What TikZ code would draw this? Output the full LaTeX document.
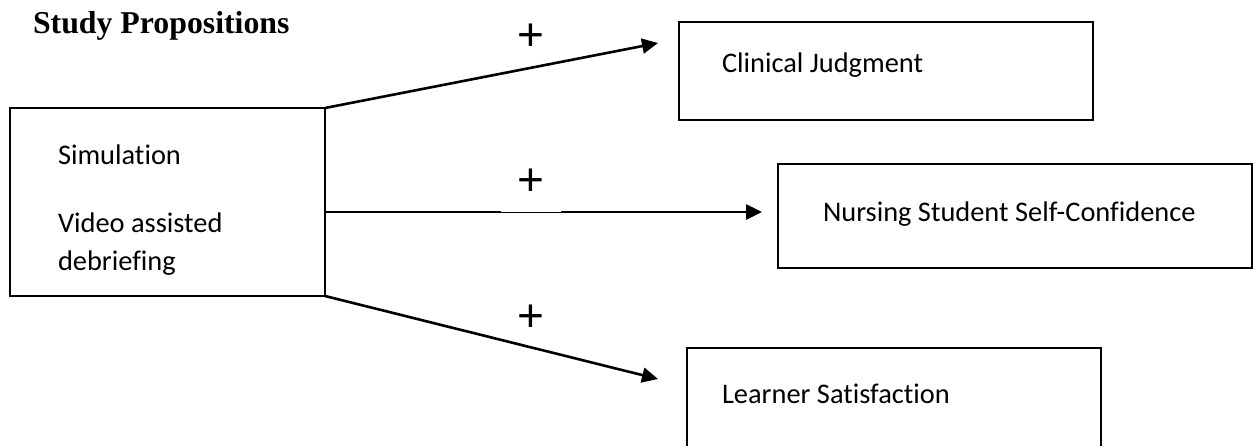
\documentclass[tikz,border=0pt]{standalone}
\usepackage{fontspec}
\setmainfont{Carlito}[Ligatures={NoCommon}]
\newfontfamily\titleFont{Liberation Serif}
\newfontfamily\plusFont{Liberation Sans}
\usetikzlibrary{arrows.meta,positioning,calc}

\begin{document}
\begin{tikzpicture}[x=1pt, y=-1pt,
				      every node/.style={inner sep=0pt, outer sep=0pt},
				      conceptBox/.style={
						      draw, shape=rectangle, line width=2pt
					      },
				      boxText/.style={
						      anchor=base west, font=\fontsize{28.4}{34}\selectfont
					      },
				      plusSign/.style={
						      font=\plusFont\fontsize{46}{46}\selectfont
					      },
				      effectArrow/.style={draw, line width=2.6pt, -{Triangle[length=16pt, width=15pt]}}
			      ]
			      \clip (0,0) rectangle (1258,445);

			      % Title
			      \node[anchor=base west, font=\titleFont\bfseries\fontsize{31.8}{36}\selectfont] (title) at (33,33) {Study Propositions};

			      % Intervention box
			      \node[conceptBox, minimum width=315pt, minimum height=188pt] (sim) at (167.5,202) {};
			      \node[boxText] (simText) at (58,164) {Simulation};
			      \node[boxText] (vadText) at (58,232) {Video assisted};
			      \node[boxText] (debText) at (58,270) {debriefing};

			      % Outcome boxes
			      \node[conceptBox, minimum width=414pt, minimum height=98pt] (clin) at (886,71) {};
			      \node[boxText] (clinText) at (722,72) {Clinical Judgment};
			      \node[conceptBox, minimum width=474pt, minimum height=104pt] (conf) at (1015,216) {};
			      \node[boxText] (confText) at (823,221) {Nursing Student Self-Confidence};
			      \node[conceptBox, minimum width=414pt, minimum height=122pt] (satis) at (894,409) {};
			      \node[boxText] (satisText) at (722,403) {Learner Satisfaction};

			      % Arrow tips
			      \coordinate (clinTip) at (658,43);
			      \coordinate (confTip) at (762,212);
			      \coordinate (satisTip) at (658,379);

			      \draw[effectArrow] (sim.north east) -- (clinTip);
			      \draw[effectArrow] (sim.east |- confTip) -- (confTip);
			      \draw[effectArrow] (sim.south east) -- (satisTip);

			      \node[plusSign] (plusClin) at (531,37) {+};
			      \node[plusSign, fill=white, minimum width=60pt, minimum height=60pt] (plusConf) at (531,182) {+};
			      \node[plusSign] (plusSatis) at (531,318) {+};
		      \end{tikzpicture}
\end{document}
